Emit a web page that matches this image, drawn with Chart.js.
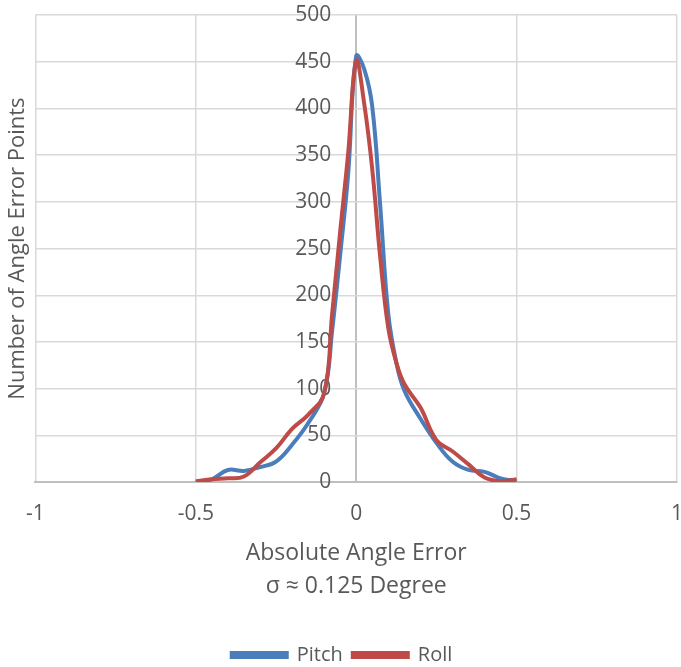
<!DOCTYPE html>
<html>
<head>
<meta charset="utf-8">
<script src="https://cdn.jsdelivr.net/npm/chart.js@4/dist/chart.umd.min.js"></script>
<style>
    html, body { margin: 0; padding: 0; background: #ffffff; }
    #wrap { width: 681px; height: 667px; }
</style>
</head>
<body>
<div id="wrap"><canvas id="errorChart"></canvas></div>
<script>
// Angle error bins and counts
const errorBins = [-0.5, -0.45, -0.4, -0.35, -0.3, -0.25, -0.2, -0.15, -0.1, -0.075, -0.05, -0.025, 0,
    0.025, 0.05, 0.075, 0.1, 0.125, 0.15, 0.2, 0.25, 0.3, 0.35, 0.4, 0.45, 0.5];
const pitchCounts = [0, 3, 13, 12, 16, 22, 40, 63, 95, 162, 243, 330, 456,
    442, 402, 295, 180, 128, 98, 68, 42, 22, 13, 11, 4, 1];
const rollCounts = [1, 3, 4, 6, 21, 36, 57, 72, 95, 180, 268, 352, 451,
    405, 335, 240, 165, 128, 105, 80, 45, 33, 19, 5, 1, 3];

const xTitle = ["Absolute Angle Error", "σ ≈ 0.125 Degree"];
const yTitle = "Number of Angle Error Points";

const textColor = "#595959";
const gridColor = "#d9d9d9";
const axisColor = "#bfbfbf";
const fontFamily = "'Open Sans', sans-serif";

function toPoints(values) {
    return errorBins.map((x, i) => ({ x: x, y: values[i] }));
}

const ctx = document.getElementById("errorChart").getContext("2d");

new Chart(ctx, {
    type: "scatter",
    data: {
        datasets: [
            {
                label: "Pitch",
                data: toPoints(pitchCounts),
                borderColor: "#4a7ebb",
                backgroundColor: "#4a7ebb",
                borderWidth: 4,
                showLine: true,
                tension: 0.4,
                pointRadius: 0,
                order: 1
            },
            {
                label: "Roll",
                data: toPoints(rollCounts),
                borderColor: "#be4b48",
                backgroundColor: "#be4b48",
                borderWidth: 4,
                showLine: true,
                tension: 0.4,
                pointRadius: 0,
                order: 0
            }
        ]
    },
    options: {
        responsive: true,
        maintainAspectRatio: false,
        animation: false,
        layout: {
            padding: { top: 15, left: 3, right: 0, bottom: -8 }
        },
        plugins: {
            tooltip: { enabled: false },
            legend: {
                position: "bottom",
                labels: {
                    boxWidth: 55,
                    boxHeight: 4,
                    padding: 10,
                    color: textColor,
                    font: { family: fontFamily, size: 20 },
                    sort: (a, b) => a.datasetIndex - b.datasetIndex
                }
            }
        },
        scales: {
            x: {
                type: "linear",
                position: "bottom",
                min: -1,
                max: 1,
                ticks: {
                    stepSize: 0.5,
                    padding: 19,
                    color: textColor,
                    font: { family: fontFamily, size: 21 },
                    callback: v => String(v)
                },
                grid: {
                    // the zero gridline doubles as the vertical axis line
                    color: c => (c.tick && c.tick.value === 0) ? axisColor : gridColor,
                    lineWidth: c => (c.tick && c.tick.value === 0) ? 2 : 1.5,
                    drawTicks: false
                },
                border: { color: axisColor, width: 2 },
                title: {
                    display: true,
                    text: xTitle,
                    color: textColor,
                    font: { family: fontFamily, size: 23, lineHeight: 1.45 },
                    padding: { top: -9, bottom: 32 }
                },
                afterFit: scale => {
                    scale.paddingLeft = 0;
                    scale.paddingRight = 4;
                }
            },
            y: {
                type: "linear",
                // labels sit just left of the zero line
                position: { x: -0.078 },
                min: 0,
                max: 500,
                ticks: {
                    stepSize: 50,
                    padding: 0,
                    color: textColor,
                    font: { family: fontFamily, size: 21 }
                },
                grid: {
                    color: gridColor,
                    lineWidth: 1.5,
                    drawTicks: false
                },
                border: { display: false }
            },
            // left-hand axis only carries the y title
            yTitleAxis: {
                type: "linear",
                position: "left",
                ticks: { display: false },
                grid: { display: false, drawTicks: false },
                border: { display: false },
                title: {
                    display: true,
                    text: yTitle,
                    color: textColor,
                    font: { family: fontFamily, size: 22 },
                    padding: { top: 2, bottom: 4 }
                }
            }
        }
    }
});
</script>
</body>
</html>
